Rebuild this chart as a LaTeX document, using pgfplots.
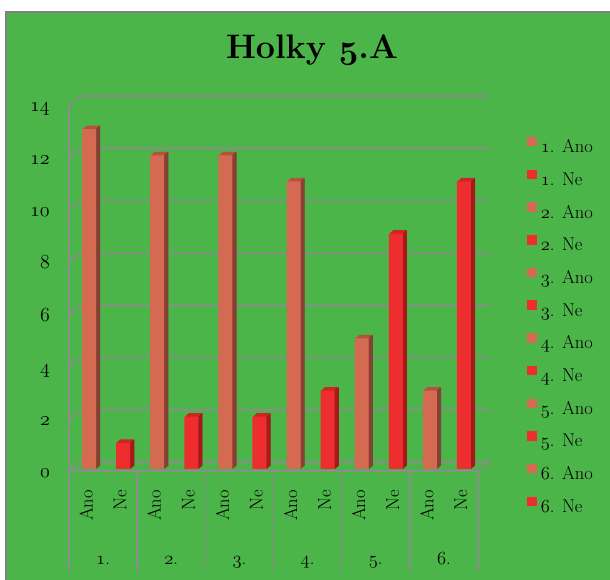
\RequirePackage{fix-cm}
\documentclass[border=0pt]{standalone}
\usepackage{pgfplots}
\pgfplotsset{compat=1.18}
\usepackage{pgfplotstable}

\pgfplotstableread{
x y
0.5 13
2.5 12
4.5 12
6.5 11
8.5 5
10.5 3
}\ano
\pgfplotstableread{
x y
1.5 1
3.5 2
5.5 2
7.5 3
9.5 9
11.5 11
}\ne

\definecolor{bg}{RGB}{75,181,73}
\definecolor{gridc}{RGB}{140,140,140}
\definecolor{bordc}{RGB}{128,128,128}
\definecolor{anoF}{RGB}{213,106,83}
\definecolor{anoT}{RGB}{180,82,64}
\definecolor{anoS}{RGB}{132,64,50}
\definecolor{neF}{RGB}{238,46,46}
\definecolor{neT}{RGB}{205,36,36}
\definecolor{neS}{RGB}{162,26,26}

\newcommand\fs{\fontsize{18.5}{22}\selectfont}
\newcommand\fd{\fontsize{20}{24}\selectfont}
\newcommand\os[1]{$\mathnormal{#1}$}

\begin{document}
\begin{tikzpicture}
\fill[white] (0pt,0pt) rectangle (610pt,580pt);
\fill[bg] (6pt,0pt) rectangle (610pt,568pt);
\draw[bordc, line width=2pt] (6pt,0pt) -- (6pt,568pt) -- (610pt,568pt);
\node[anchor=base, font=\fontsize{34}{40}\selectfont\bfseries\boldmath] at (312pt,521pt) {Holky \os{5}.A};

\begin{axis}[
  at={(69pt,109pt)}, anchor=south west,
  scale only axis, width=409pt, height=366pt,
  xmin=0, xmax=12, ymin=0, ymax=14,
  clip=false,
  axis line style={draw=none},
  tick style={draw=none},
  major tick length=0pt,
  ytick={0,2,4,6,8,10,12,14},
  yticklabels={\os{0},\os{2},\os{4},\os{6},\os{8},\os{10},\os{12},\os{14}},
  yticklabel style={font=\fd, anchor=base east, inner sep=0pt, yshift=-7pt},
  yticklabel shift=19pt,
  xtick={0.5,1.5,2.5,3.5,4.5,5.5,6.5,7.5,8.5,9.5,10.5,11.5},
  xticklabels={Ano,Ne,Ano,Ne,Ano,Ne,Ano,Ne,Ano,Ne,Ano,Ne},
  xticklabel style={font=\fs, rotate=90, anchor=east, inner sep=0pt},
  xticklabel shift=19pt,
  legend image code/.code={\fill[#1] (0pt,3pt) rectangle (8.5pt,11.5pt);},
  legend style={at={(1.1198,0.9127)}, anchor=north west, draw=none, fill=none,
    inner sep=0pt, outer sep=0pt, font=\fs, row sep=13pt,
    nodes={inner sep=0pt, text height=12pt, text depth=4pt},
    /tikz/column sep=5pt},
  legend cell align=left,
]
% back wall grid and left wall
\pgfplotsinvokeforeach{0,2,4,6,8,10,12,14}{
  \draw[gridc, line width=1.6pt] (axis cs:0,#1) -- ([shift={(12pt,9pt)}]axis cs:0,#1) -- ([shift={(12pt,9pt)}]axis cs:12,#1);
}
\draw[gridc, line width=1.6pt] (axis cs:0,14) -- (axis cs:0,0) -- (axis cs:12,0) -- ([shift={(12pt,9pt)}]axis cs:12,0);
\pgfplotsinvokeforeach{0,2,4,6,8,10,12}{
  \draw[gridc, line width=1.6pt] (axis cs:#1,0) -- ++(0pt,-101pt);
}

% Ano bars (3D)
\addplot[ybar, forget plot, draw=none, fill=anoT, bar width=14pt, bar shift=4pt, yshift=2.875pt] table {\ano};
\addplot[ybar, forget plot, draw=none, fill=anoT, bar width=14pt, bar shift=5pt, yshift=3.75pt] table {\ano};
\addplot[ybar, forget plot, draw=none, fill=anoT, bar width=14pt, bar shift=6pt, yshift=4.625pt] table {\ano};
\addplot[ybar, forget plot, draw=none, fill=anoT, bar width=14pt, bar shift=7pt, yshift=5.5pt] table {\ano};
\addplot[ybar, forget plot, draw=none, fill=anoS, bar width=1.3pt, bar shift=10.5pt, yshift=2.44pt] table {\ano};
\addplot[ybar, forget plot, draw=none, fill=anoS, bar width=1.3pt, bar shift=11.5pt, yshift=3.31pt] table {\ano};
\addplot[ybar, forget plot, draw=none, fill=anoS, bar width=1.3pt, bar shift=12.5pt, yshift=4.19pt] table {\ano};
\addplot[ybar, forget plot, draw=none, fill=anoS, bar width=1.3pt, bar shift=13.5pt, yshift=5.06pt] table {\ano};
\addplot[ybar, forget plot, draw=none, fill=anoF, bar width=14pt, bar shift=3pt, yshift=2pt] table {\ano};

% Ne bars (3D)
\addplot[ybar, forget plot, draw=none, fill=neT, bar width=14pt, bar shift=4pt, yshift=2.875pt] table {\ne};
\addplot[ybar, forget plot, draw=none, fill=neT, bar width=14pt, bar shift=5pt, yshift=3.75pt] table {\ne};
\addplot[ybar, forget plot, draw=none, fill=neT, bar width=14pt, bar shift=6pt, yshift=4.625pt] table {\ne};
\addplot[ybar, forget plot, draw=none, fill=neT, bar width=14pt, bar shift=7pt, yshift=5.5pt] table {\ne};
\addplot[ybar, forget plot, draw=none, fill=neS, bar width=1.3pt, bar shift=10.5pt, yshift=2.44pt] table {\ne};
\addplot[ybar, forget plot, draw=none, fill=neS, bar width=1.3pt, bar shift=11.5pt, yshift=3.31pt] table {\ne};
\addplot[ybar, forget plot, draw=none, fill=neS, bar width=1.3pt, bar shift=12.5pt, yshift=4.19pt] table {\ne};
\addplot[ybar, forget plot, draw=none, fill=neS, bar width=1.3pt, bar shift=13.5pt, yshift=5.06pt] table {\ne};
\addplot[ybar, forget plot, draw=none, fill=neF, bar width=14pt, bar shift=3pt, yshift=2pt] table {\ne};

% group labels
\node[font=\fs, anchor=base] at ([yshift=-94pt]axis cs:1,0) {\os{1}.};
\node[font=\fs, anchor=base] at ([yshift=-94pt]axis cs:3,0) {\os{2}.};
\node[font=\fs, anchor=base] at ([yshift=-94pt]axis cs:5,0) {\os{3}.};
\node[font=\fs, anchor=base] at ([yshift=-94pt]axis cs:7,0) {\os{4}.};
\node[font=\fs, anchor=base] at ([yshift=-94pt]axis cs:9,0) {\os{5}.};
\node[font=\fs, anchor=base] at ([yshift=-94pt]axis cs:11,0) {\os{6}.};

% legend
\addlegendimage{anoF}\addlegendentry{\os{1}. Ano}
\addlegendimage{neF}\addlegendentry{\os{1}. Ne}
\addlegendimage{anoF}\addlegendentry{\os{2}. Ano}
\addlegendimage{neF}\addlegendentry{\os{2}. Ne}
\addlegendimage{anoF}\addlegendentry{\os{3}. Ano}
\addlegendimage{neF}\addlegendentry{\os{3}. Ne}
\addlegendimage{anoF}\addlegendentry{\os{4}. Ano}
\addlegendimage{neF}\addlegendentry{\os{4}. Ne}
\addlegendimage{anoF}\addlegendentry{\os{5}. Ano}
\addlegendimage{neF}\addlegendentry{\os{5}. Ne}
\addlegendimage{anoF}\addlegendentry{\os{6}. Ano}
\addlegendimage{neF}\addlegendentry{\os{6}. Ne}
\end{axis}
\pgfresetboundingbox
\useasboundingbox (0pt,0pt) rectangle (610pt,580pt);
\end{tikzpicture}
\end{document}
